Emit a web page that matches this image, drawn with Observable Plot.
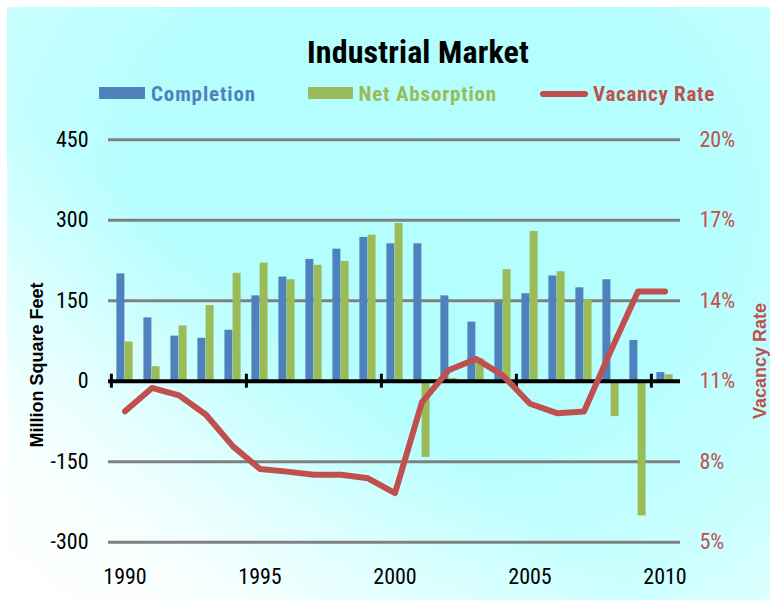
<!DOCTYPE html>
<html>
<head>
<meta charset="utf-8">
<script src="https://cdn.jsdelivr.net/npm/d3@7"></script>
<script src="https://cdn.jsdelivr.net/npm/@observablehq/plot@0.6"></script>
<style>
  body { margin: 0; background: #ffffff; }
  #panel {
    position: absolute; left: 7px; top: 7px; width: 763px; height: 593px; overflow: hidden;
    background:
      linear-gradient(38deg, #ffffff 0%, rgba(255,255,255,0.85) 14%, rgba(255,255,255,0) 42%),
      radial-gradient(ellipse 85% 95% at 55% 32%, #b3fefe 0%, #b6fefe 45%, #cbffff 75%, #eaffff 100%);
  }
  .narrow { font-family: "Roboto Condensed", "DejaVu Sans Condensed", sans-serif; }
  #title {
    position: absolute; top: 29px; white-space: nowrap;
    font-size: 32px; line-height: 1; font-weight: bold; color: #000;
  }
  .leg { position: absolute; top: 77px; font-size: 21px; line-height: 1; font-weight: bold; white-space: nowrap; }
  .sw { position: absolute; }
  .ytitle {
    position: absolute; white-space: nowrap; font-family: "Liberation Sans", Arial, sans-serif;
    font-weight: bold; font-size: 18px; transform: translate(-50%, -50%) rotate(-90deg);
  }
  #chart { position: absolute; left: 0; top: 103px; }
</style>
</head>
<body>
<div id="panel">
  <div id="title" class="narrow" data-left="300" data-width="222">Industrial Market</div>
  <div class="sw" style="left:92px;top:80px;width:46px;height:12px;background:#4f81bd"></div>
  <div class="leg narrow" style="left:144px;color:#4f81bd" data-width="105">Completion</div>
  <div class="sw" style="left:301px;top:80px;width:45px;height:12px;background:#9bbb59"></div>
  <div class="leg narrow" style="left:351.5px;color:#9bbb59" data-width="138.5">Net Absorption</div>
  <div class="sw" style="left:533px;top:84px;width:48px;height:6px;border-radius:3px;background:#c0504d"></div>
  <div class="leg narrow" style="left:586px;color:#c0504d" data-width="122">Vacancy Rate</div>
  <div class="ytitle" style="left:29.5px;top:358px;color:#000">Million Square Feet</div>
  <div class="ytitle" style="left:752.7px;top:354px;color:#c0504d">Vacancy Rate</div>
  <div id="chart"></div>
</div>
<script>
const years = ["1990","1991","1992","1993","1994","1995","1996","1997","1998","1999","2000",
               "2001","2002","2003","2004","2005","2006","2007","2008","2009","2010"];
const completion    = [200, 118, 84, 80, 95, 159, 194, 227, 246, 268, 256, 256, 159, 110, 147, 163, 196, 174, 189, 76, 16];
const netAbsorption = [73, 27, 103, 141, 201, 220, 189, 216, 223, 272, 294, -142, 5, 42, 208, 279, 204, 152, -66, -251, 12];
const vacancyRate   = [9.88, 10.75, 10.47, 9.75, 8.57, 7.73, 7.63, 7.51, 7.51, 7.38, 6.83, 10.22, 11.42, 11.83, 11.21, 10.16, 9.81, 9.87, 12.15, 14.34, 14.34];
const leftTicks = [-300, -150, 0, 150, 300, 450];
const gridTicks = [-300, -150, 150, 300, 450];
const yearLabels = ["1990", "1995", "2000", "2005", "2010"];

// right axis (vacancy %) shares the left scale: 11% <-> 0, 3 points <-> 150
const pctToY = p => (p - 11) * 50;
const yToPct = v => v / 50 + 11;

const rows = years.map((year, i) => ({year, completion: completion[i], absorption: netAbsorption[i], vacancy: vacancyRate[i]}));

const narrow = '"Roboto Condensed", "DejaVu Sans Condensed", sans-serif';
const W = 763, ML = 101, MR = 90;
const half = (W - ML - MR) / years.length / 2;

const chart = Plot.plot({
  width: W,
  height: 490,
  marginTop: 29.2,
  marginBottom: 58.3,
  marginLeft: ML,
  marginRight: MR,
  style: {background: "transparent", fontFamily: narrow, fontSize: "22px", color: "#000", overflow: "visible"},
  x: {type: "band", domain: years, padding: 0, axis: null},
  y: {domain: [-300, 450], axis: null},
  marks: [
    Plot.ruleY(gridTicks, {stroke: "#808080", strokeWidth: 3}),
    Plot.barY(rows, {x: "year", y: "completion", fill: "#4f81bd", insetLeft: 5.4, insetRight: half}),
    Plot.barY(rows, {x: "year", y: "absorption", fill: "#9bbb59", insetLeft: half, insetRight: 5.4}),
    Plot.ruleY([0], {stroke: "#000", strokeWidth: 4}),
    Plot.ruleX(yearLabels, {x: d => d, y1: -13, y2: 13, dx: -half, stroke: "#000", strokeWidth: 3}),
    Plot.line(rows, {x: "year", y: d => pctToY(d.vacancy), stroke: "#c0504d", strokeWidth: 6, strokeLinecap: "round", strokeLinejoin: "round"}),
    Plot.axisY(leftTicks, {anchor: "left", tickSize: 0, tickPadding: 20, tickFormat: d => String(d), fill: "#000", label: null}),
    Plot.axisY(leftTicks, {anchor: "right", tickSize: 0, tickPadding: 19, tickFormat: d => `${yToPct(d)}%`, fill: "#c0504d", label: null}),
    Plot.axisX(yearLabels, {anchor: "bottom", tickSize: 0, tickPadding: 26, fill: "#000", label: null})
  ]
});
document.getElementById("chart").appendChild(chart);

// fit text widths to the reference by letter-spacing
function fitAll() {
  document.querySelectorAll("[data-width]").forEach(el => {
    el.style.letterSpacing = "0px";
    const w = el.getBoundingClientRect().width;
    const n = el.textContent.length;
    const target = +el.dataset.width;
    el.style.letterSpacing = ((target - w) / n) + "px";
    if (el.id === "title") {
      el.style.left = (411 - target / 2) + "px";
    }
  });
}
fitAll();
if (document.fonts && document.fonts.ready) document.fonts.ready.then(fitAll);
</script>
</body>
</html>
